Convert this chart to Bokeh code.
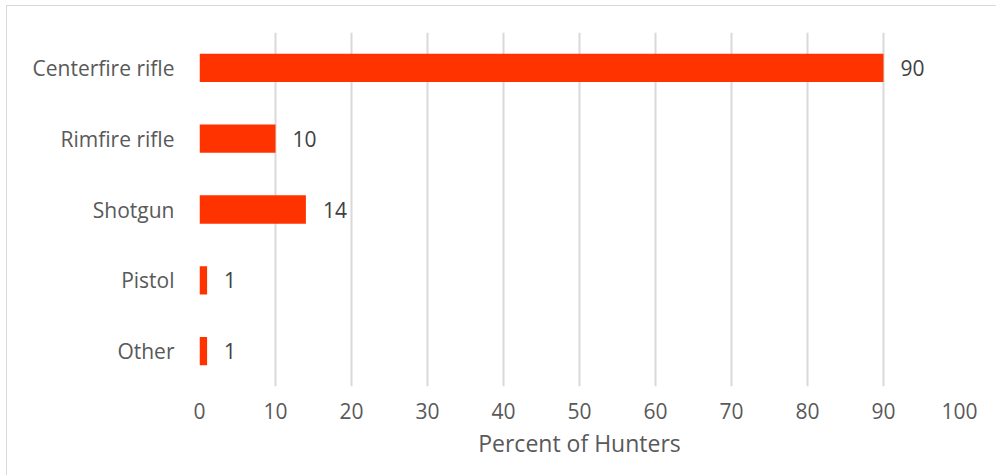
from bokeh.plotting import figure
from bokeh.models import ColumnDataSource, LabelSet, FactorRange, FixedTicker
from bokeh.core.properties import value
from bokeh.embed import file_html
from bokeh.resources import INLINE

categories = ["Centerfire rifle", "Rimfire rifle", "Shotgun", "Pistol", "Other"]
values = [90, 10, 14, 1, 1]
x_ticks = [0, 10, 20, 30, 40, 50, 60, 70, 80, 90, 100]

FONT = "Open Sans"
TXT = "#595959"

src = ColumnDataSource(dict(cat=categories, val=values, lab=[str(v) for v in values]))

p = figure(width=990, height=470, output_backend="svg", toolbar_location=None,
           y_range=FactorRange(factors=categories[::-1]), x_range=(0, 100),
           min_border_left=192, min_border_right=38, min_border_top=26, min_border_bottom=90)
p.styles = {"margin-left": "6px", "margin-top": "5px",
            "border-left": "1px solid #d9d9d9", "border-top": "1px solid #d9d9d9"}
p.y_range.range_padding = 0

p.hbar(y="cat", right="val", left=0, height=0.4, source=src, color="#FF3300", line_color=None)

labels = LabelSet(x="val", y="cat", text="lab", source=src, x_offset=17, y_offset=0,
                  text_font=value(FONT), text_font_size="21px", text_color="#404040",
                  text_baseline="middle", text_align="left")
p.add_layout(labels)

p.outline_line_color = None
p.ygrid.grid_line_color = None
p.xgrid.grid_line_color = "#d9d9d9"
p.xgrid.grid_line_width = 2
p.xaxis.ticker = FixedTicker(ticks=x_ticks)
p.xaxis.axis_line_color = None
p.yaxis.axis_line_color = None
for ax in (p.xaxis, p.yaxis):
    ax.major_tick_line_color = None
    ax.minor_tick_line_color = None
    ax.major_label_text_font = FONT
    ax.major_label_text_font_size = "21px"
    ax.major_label_text_color = TXT
p.xaxis.major_label_standoff = 10
p.yaxis.major_label_standoff = 19
p.xaxis.axis_label = "Percent of Hunters"
p.xaxis.axis_label_text_font = FONT
p.xaxis.axis_label_text_font_size = "23px"
p.xaxis.axis_label_text_font_style = "normal"
p.xaxis.axis_label_text_color = TXT
p.xaxis.axis_label_standoff = 5

open("out.html", "w").write(file_html(p, INLINE))
